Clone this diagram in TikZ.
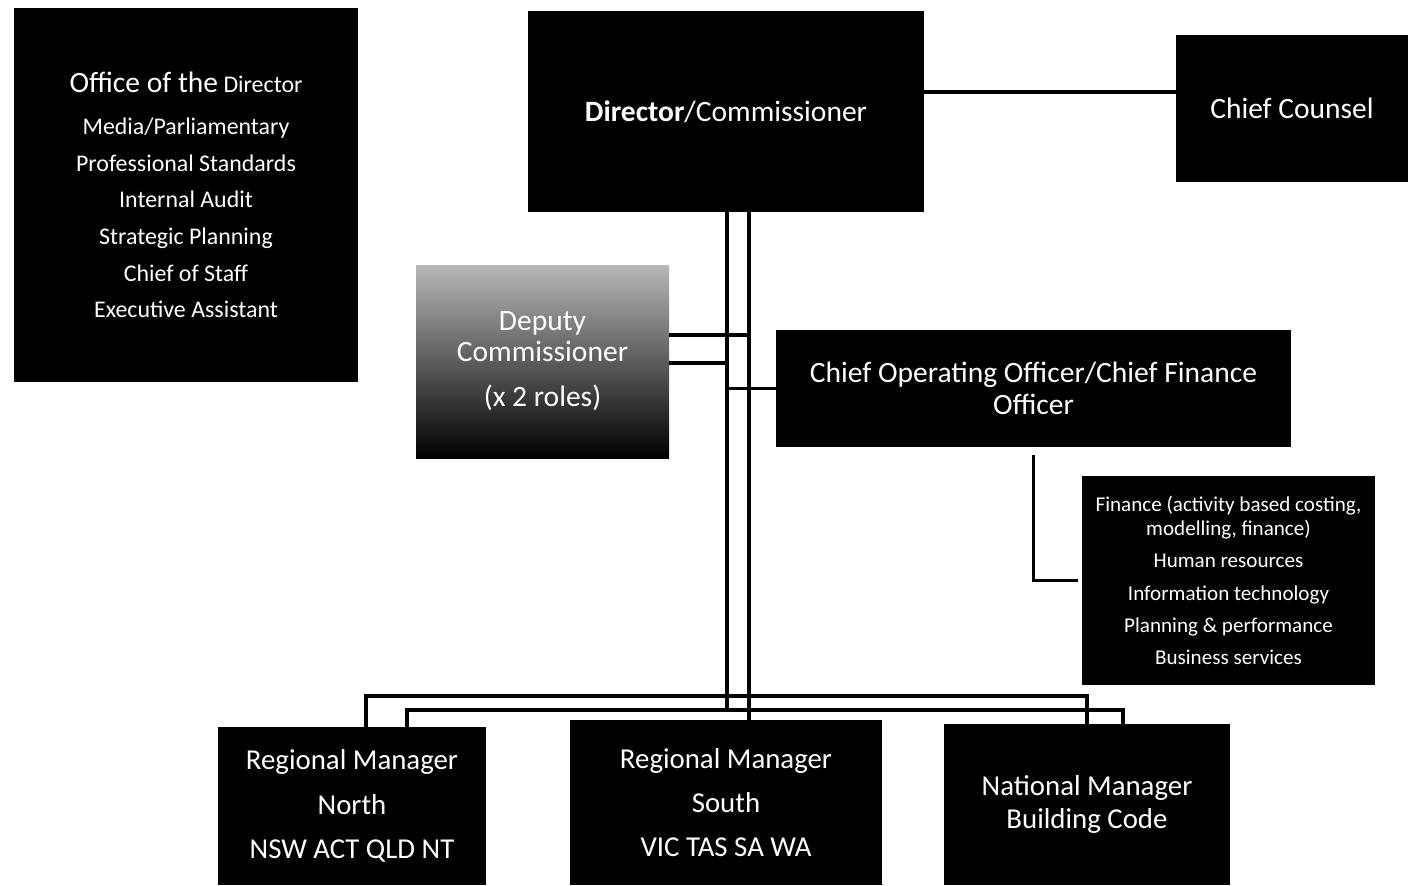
\documentclass[tikz,border=0pt]{standalone}
\usepackage{fontspec}
\setmainfont{Carlito}
\usetikzlibrary{calc}

\begin{document}
\begin{tikzpicture}[
  box/.style  ={fill=black, text=white, align=center, inner sep=0pt},
  grad/.style ={top color=black!28, middle color=black!78, bottom color=black,
                text=white, align=center, inner sep=0pt},
  link/.style ={draw=black, line width=2.6pt},
  big/.style  ={font=\fontsize{21}{23}\selectfont},
  mgr/.style  ={font=\fontsize{20.5}{31.5}\selectfont},
]
\useasboundingbox (0,0) rectangle (35.2,22.125);

% Top row -- office, director and counsel.
\node[box, minimum width=8.6cm, minimum height=9.35cm,
      font=\fontsize{17}{26}\selectfont] (office) at (4.65,17.25)
  {{\fontsize{21}{26}\selectfont Office of the} Director\\[4pt]
   Media/Parliamentary\\ Professional Standards\\ Internal Audit\\
   Strategic Planning\\ Chief of Staff\\ Executive Assistant};
\node[box, big, minimum width=9.9cm, minimum height=5.025cm] (dir) at (18.15,19.3375)
  {\textbf{Director}/Commissioner};
\node[box, big, minimum width=5.8cm, minimum height=3.675cm] (counsel) at (32.3,19.4125)
  {Chief Counsel};

% Middle row -- deputies and the COO/CFO with its services.
\node[grad, font=\fontsize{21}{21.5}\selectfont,
      minimum width=6.325cm, minimum height=4.825cm] (dep) at (13.5625,13.0875)
  {Deputy\\ Commissioner\\[11pt] (x 2 roles)};
\node[box, font=\fontsize{21}{22.8}\selectfont,
      minimum width=12.875cm, minimum height=2.925cm] (coo) at (25.8375,12.4125)
  {Chief Operating Officer/Chief Finance\\ Officer};
\node[box, font=\fontsize{15}{17}\selectfont,
      minimum width=7.325cm, minimum height=5.225cm] (fin) at (30.7125,7.6125)
  {Finance (activity based costing,\\ modelling, finance)\\[6pt]
   Human resources\\[6pt] Information technology\\[6pt]
   Planning \& performance\\[6pt] Business services};

% Bottom row -- managers.
\node[box, mgr, minimum width=6.7cm, minimum height=3.95cm] (north) at (8.8,1.975)
  {Regional Manager\\ North\\ NSW ACT QLD NT};
\node[box, mgr, minimum width=7.8cm, minimum height=4.125cm] (south) at (18.15,2.0625)
  {Regional Manager\\ South\\ VIC TAS SA WA};
\node[box, font=\fontsize{20.5}{23.5}\selectfont,
      minimum width=7.15cm, minimum height=4.025cm] (natl) at (27.175,2.0125)
  {National Manager\\ Building Code};

% Spines and bars.
\coordinate (spA)  at (18.175,0);
\coordinate (spB)  at (18.725,0);
\coordinate (barA) at (0,4.725);
\coordinate (barB) at (0,4.375);
\coordinate (natB) at ([xshift=0.9cm]natl.north);

\draw[link] ([yshift=0.49cm]dir.east) -- ([yshift=0.49cm]dir.east -| counsel.west);
\draw[link] (dir.south -| spA) -- (barB -| spA);
\draw[link] (dir.south -| spB) -- (south.north -| spB);

\draw[link] ([yshift=0.66cm]dep.east)  -- ([yshift=0.66cm]dep.east -| spB);
\draw[link] ([yshift=-0.04cm]dep.east) -- ([yshift=-0.04cm]dep.east -| spA);
\draw[link] (coo.west) -- (coo.west -| spA);
\draw[link, shorten <=0.2cm, shorten >=0.1cm] (coo.south) |- (fin.west);

\draw[link] ([xshift=0.35cm]north.north)  |- (barA -| natl.north) -- (natl.north);
\draw[link] ([xshift=1.375cm]north.north) |- (barB -| natB) -- (natB);
\end{tikzpicture}
\end{document}
